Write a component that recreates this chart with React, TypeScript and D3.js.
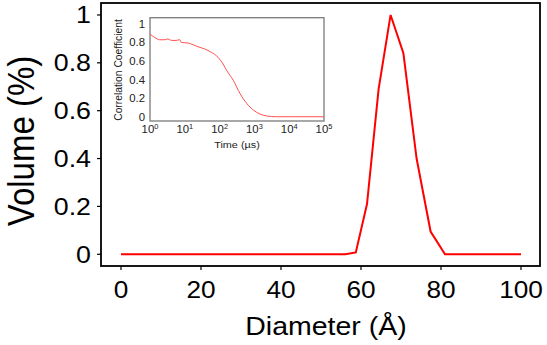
import React from "react";
import * as d3 from "d3";

// Size distribution (volume-weighted)
const diameters = [0, 56.1, 58.7, 61.5, 64.4, 67.4, 70.6, 73.9, 77.4, 81.0, 100];
const volumes = [0, 0, 0.008, 0.21, 0.69, 1.0, 0.84, 0.40, 0.095, 0, 0];

const xTicks = [0, 20, 40, 60, 80, 100];
const yTicks = [0, 0.2, 0.4, 0.6, 0.8, 1];

// Autocorrelation function (inset)
const times = [1, 1.36, 1.9, 2.64, 3.29, 4.09, 5.7, 7.13, 7.94, 12.4, 17.2, 23.9, 37.3, 57.7, 90, 125, 160, 248, 386, 601, 930, 1449, 2255, 4370, 10000, 100000];
const correlation = [0.894, 0.858, 0.833, 0.833, 0.842, 0.826, 0.826, 0.834, 0.804, 0.798, 0.78, 0.758, 0.734, 0.698, 0.645, 0.574, 0.503, 0.397, 0.255, 0.149, 0.078, 0.035, 0.014, 0.006, 0.006, 0.006];

const insetXExp = [0, 1, 2, 3, 4, 5];
const insetYTicks = [0, 0.2, 0.4, 0.6, 0.8, 1];

const SX = 1.14;
const FONT = "Liberation Sans, Arial, Helvetica, sans-serif";

export default function App() {
  const W = 547;
  const H = 345;

  const x = d3.scaleLinear().domain([-5, 104.75]).range([101, 540]);
  const y = d3.scaleLinear().domain([-0.049, 1.05]).range([266, 3]);

  const ix = d3.scaleLog().domain([1, 1e5]).range([150, 324]);
  const iy = d3.scaleLinear().domain([-0.04, 1.07]).range([121, 17.7]);

  const mainLine = d3
    .line<number>()
    .x((_, i) => x(diameters[i]))
    .y((v) => y(v));

  const insetLine = d3
    .line<number>()
    .x((_, i) => ix(times[i]))
    .y((v) => iy(v))
    .curve(d3.curveMonotoneX);

  return (
    <svg width={W} height={H} style={{ position: "absolute", left: 0, top: 0, background: "#fff" }} fontFamily={FONT}>
      <rect x={0} y={0} width={W} height={H} fill="#fff" />

      {/* main frame */}
      <rect x={x.range()[0]} y={y.range()[1]} width={x.range()[1] - x.range()[0]} height={y.range()[0] - y.range()[1]} fill="none" stroke="#000" strokeWidth={1.8} />

      {/* y ticks */}
      {yTicks.map((t) => (
        <g key={"yt" + t}>
          <line x1={97} x2={101} y1={y(t)} y2={y(t)} stroke="#000" strokeWidth={1.2} />
          <text transform={`translate(91,${y(t)}) scale(${SX},1)`} textAnchor="end" dy="0.36em" fontSize={23.5} fill="#000">
            {t}
          </text>
        </g>
      ))}

      {/* x ticks */}
      {xTicks.map((t) => (
        <g key={"xt" + t}>
          <line x1={x(t)} x2={x(t)} y1={266} y2={270} stroke="#000" strokeWidth={1.2} />
          <text transform={`translate(${x(t)},298) scale(${SX},1)`} textAnchor="middle" fontSize={23} fill="#000">
            {t}
          </text>
        </g>
      ))}

      <text transform={`translate(326,335) scale(${SX},1)`} textAnchor="middle" fontSize={25} fill="#000">
        Diameter (Å)
      </text>
      <text transform={`translate(33.5,141) scale(1.1,1) rotate(-90)`} textAnchor="middle" fontSize={33} fill="#000">
        Volume (%)
      </text>

      <path d={mainLine(volumes) || ""} fill="none" stroke="#ff0000" strokeWidth={2} strokeLinejoin="miter" />

      {/* inset */}
      <rect x={150} y={17.7} width={174} height={121 - 17.7} fill="#fff" stroke="#7a7a7a" strokeWidth={1.3} />
      <path d={insetLine(correlation) || ""} fill="none" stroke="#ff5050" strokeWidth={1} />

      {insetYTicks.map((t) => (
        <text key={"iy" + t} transform={`translate(145,${iy(t)}) scale(${SX},1)`} textAnchor="end" dy="0.36em" fontSize={10} fill="#222">
          {t}
        </text>
      ))}
      {insetXExp.map((e) => (
        <text key={"ix" + e} transform={`translate(${ix(Math.pow(10, e))},133) scale(${SX},1)`} textAnchor="middle" fontSize={10} fill="#222">
          10
          <tspan fontSize={6.5} dy={-4}>
            {e}
          </tspan>
        </text>
      ))}
      <text transform={`translate(237,148) scale(${SX},1)`} textAnchor="middle" fontSize={9.5} fill="#222">
        Time (µs)
      </text>
      <text transform={`translate(122,70) scale(${SX},1) rotate(-90)`} textAnchor="middle" fontSize={10.3} fill="#222">
        Correlation Coefficient
      </text>
    </svg>
  );
}
